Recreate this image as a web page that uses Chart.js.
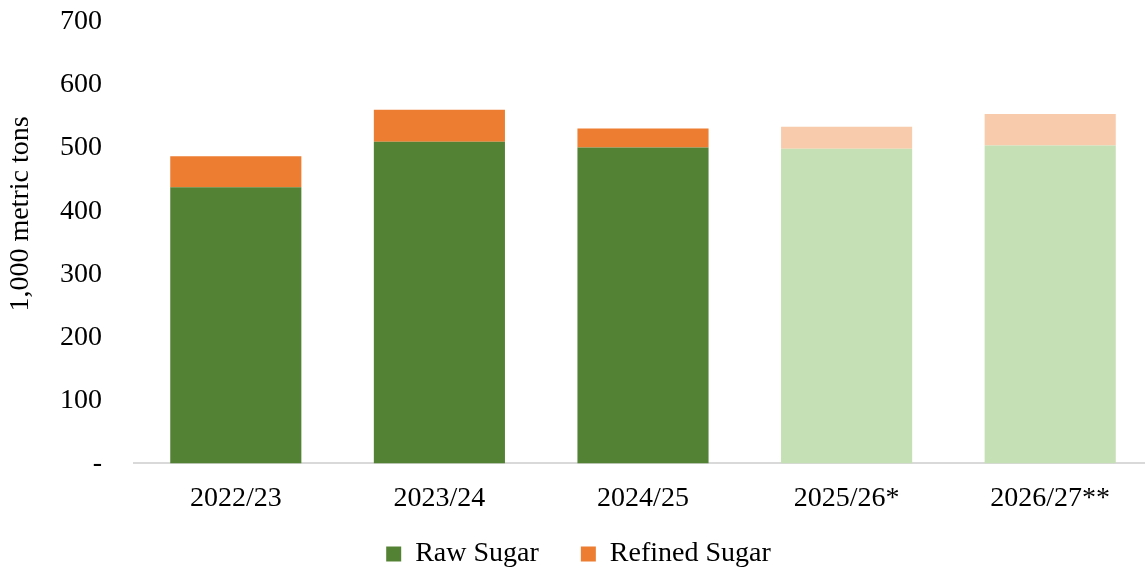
<!DOCTYPE html>
<html>
<head>
<meta charset="utf-8">
<script src="https://cdn.jsdelivr.net/npm/chart.js@4"></script>
<style>
  html, body { margin: 0; padding: 0; background: #fff; overflow: hidden; }
  #wrap { width: 1145px; height: 571px; overflow: hidden; }
</style>
</head>
<body>
<div id="wrap"><canvas id="chartOne" width="1152" height="571"></canvas></div>
<script>
const years = ['2022/23', '2023/24', '2024/25', '2025/26*', '2026/27**'];
const rawSugar = [438, 510, 501, 499, 504];
const refinedSugar = [49, 51, 30, 35, 50];
const rawColors = ['#548235', '#548235', '#548235', '#c5e0b4', '#c5e0b4'];
const refinedColors = ['#ed7d31', '#ed7d31', '#ed7d31', '#f8cbad', '#f8cbad'];
const yTitle = '1,000 metric tons';

const font = { family: '"Liberation Serif", "Times New Roman", serif', size: 28 };

// legend keeps wide item spacing but takes less height, sits closer to axis labels
const legendSpacing = {
    id: 'legendSpacing',
    beforeLayout(chart) {
        const lg = chart.legend;
        if (lg && !lg._tight) {
            const fit = lg.fit;
            lg.fit = function() { fit.call(this); this.height -= 34; };
            lg._tight = true;
        }
    },
    afterLayout(chart) {
        chart.legend.top = chart.legend.bottom - 73;
    }
};

// y axis title sits a bit above the middle of the axis in the original
const axisTitle = {
    id: 'axisTitle',
    afterDraw(chart) {
        const c = chart.ctx;
        const area = chart.chartArea;
        c.save();
        c.translate(21, area.top + (area.bottom - area.top) * 0.435);
        c.rotate(-Math.PI / 2);
        c.font = font.size + 'px ' + font.family;
        c.fillStyle = '#000';
        c.textAlign = 'center';
        c.textBaseline = 'middle';
        c.fillText(yTitle, 0, 0);
        c.restore();
    }
};

const ctx = document.getElementById('chartOne').getContext('2d');
const myChart = new Chart(ctx, {
    type: 'bar',
    data: {
        labels: years,
        datasets: [
            {
                label: 'Raw Sugar',
                data: rawSugar,
                backgroundColor: rawColors,
                borderWidth: 0
            },
            {
                label: 'Refined Sugar',
                data: refinedSugar,
                backgroundColor: refinedColors,
                borderWidth: 0
            }
        ]
    },
    plugins: [legendSpacing, axisTitle],
    options: {
        responsive: false,
        animation: false,
        categoryPercentage: 1,
        barPercentage: 0.644,
        layout: {
            padding: { top: 22, right: 0, left: 5, bottom: 0 }
        },
        scales: {
            x: {
                stacked: true,
                grid: { display: false },
                border: { color: '#d9d9d9', width: 2 },
                ticks: { color: '#000', font: font, padding: 10 }
            },
            y: {
                stacked: true,
                min: 0,
                max: 700,
                grid: { display: false },
                border: { display: false },
                afterFit: function(scale) {
                    scale.width = 129;
                    scale.paddingTop = 0;
                },
                ticks: {
                    stepSize: 100,
                    color: '#000',
                    font: font,
                    padding: 24,
                    callback: function(value) {
                        return value === 0 ? '-' : value;
                    }
                }
            }
        },
        plugins: {
            legend: {
                position: 'bottom',
                labels: {
                    color: '#000',
                    font: font,
                    boxWidth: 15,
                    boxHeight: 15,
                    padding: 42,
                    generateLabels: function(chart) {
                        return chart.data.datasets.map((ds, i) => ({
                            text: ds.label,
                            fillStyle: ds.backgroundColor[0],
                            strokeStyle: ds.backgroundColor[0],
                            lineWidth: 0,
                            datasetIndex: i,
                            hidden: false
                        }));
                    }
                }
            },
            tooltip: { enabled: false }
        }
    }
});
</script>
</body>
</html>
